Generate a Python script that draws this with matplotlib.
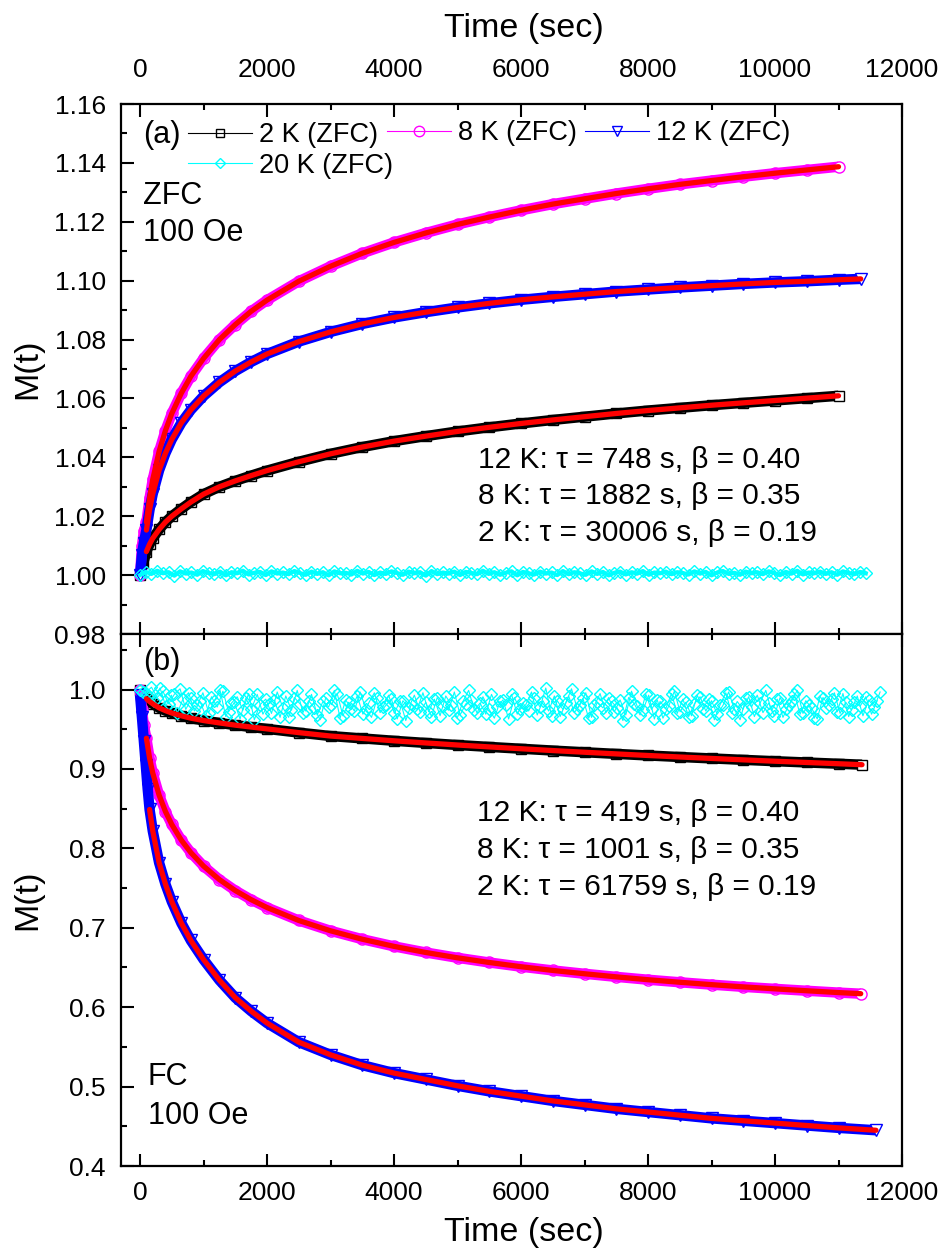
import matplotlib
matplotlib.use('Agg')
import matplotlib.pyplot as plt
from matplotlib.lines import Line2D
from matplotlib.ticker import MultipleLocator, FormatStrFormatter

plt.rcParams['font.family'] = ['Liberation Sans', 'DejaVu Sans']

# ---------------- data ----------------
fit_t = [100, 150, 200, 300, 400, 500, 650, 800, 1000, 1250, 1500, 1750, 2000, 2500, 3000,
         3500, 4000, 4500, 5000, 5500, 6000, 6500, 7000, 7500, 8000, 8500, 9000, 9500,
         10000, 10500, 11000]

# (a) ZFC fits
zfc_2k_fit_t = fit_t
zfc_2k_fit = [1.0080, 1.0105, 1.0125, 1.0155, 1.0180, 1.0200, 1.0225, 1.0248, 1.0275, 1.0300,
              1.0320, 1.0338, 1.0355, 1.0385, 1.0412, 1.0435, 1.0455, 1.0472, 1.0488, 1.0502,
              1.0515, 1.0527, 1.0538, 1.0549, 1.0559, 1.0568, 1.0577, 1.0585, 1.0593, 1.0601,
              1.0609]
zfc_8k_fit_t = fit_t
zfc_8k_fit = [1.0180, 1.0262, 1.0325, 1.0420, 1.0491, 1.0549, 1.0618, 1.0675, 1.0736, 1.0800,
              1.0851, 1.0896, 1.0934, 1.0998, 1.1049, 1.1093, 1.1130, 1.1162, 1.1191, 1.1216,
              1.1239, 1.1260, 1.1278, 1.1296, 1.1312, 1.1327, 1.1340, 1.1353, 1.1365, 1.1376,
              1.1387]
zfc_12k_fit_t = fit_t + [11350]
zfc_12k_fit = [1.0153, 1.0223, 1.0276, 1.0356, 1.0414, 1.0461, 1.0517, 1.0561, 1.0608, 1.0655,
               1.0693, 1.0724, 1.0751, 1.0793, 1.0826, 1.0853, 1.0875, 1.0893, 1.0909, 1.0923,
               1.0935, 1.0945, 1.0954, 1.0963, 1.0970, 1.0977, 1.0983, 1.0989, 1.0994, 1.0998,
               1.1003, 1.1006]

# (a) ZFC data: early points + points along the curve
zfc_2k_t = [0, 50] + zfc_2k_fit_t
zfc_2k_m = [1.000, 1.004] + zfc_2k_fit
zfc_8k_t = [0, 30, 60] + zfc_8k_fit_t
zfc_8k_m = [1.000, 1.010, 1.015] + zfc_8k_fit
zfc_12k_t = [0, 30, 60] + zfc_12k_fit_t
zfc_12k_m = [1.000, 1.007, 1.011] + zfc_12k_fit

# (b) FC fits
fc_2k_fit_t = fit_t + [11370]
fc_2k_fit = [0.9885, 0.9850, 0.9820, 0.9770, 0.9735, 0.9705, 0.9670, 0.9640, 0.9610, 0.9580,
             0.9552, 0.9528, 0.9505, 0.9458, 0.9415, 0.9385, 0.9355, 0.9328, 0.9302, 0.9278,
             0.9255, 0.9232, 0.9211, 0.9190, 0.9170, 0.9151, 0.9133, 0.9115, 0.9098, 0.9082,
             0.9066, 0.9054]
fc_8k_fit_t = fit_t + [11350]
fc_8k_fit = [0.9387, 0.9137, 0.8949, 0.8671, 0.8464, 0.8301, 0.8104, 0.7947, 0.7777, 0.7607,
             0.7469, 0.7354, 0.7255, 0.7092, 0.6962, 0.6856, 0.6766, 0.6689, 0.6622, 0.6563,
             0.6510, 0.6463, 0.6421, 0.6382, 0.6346, 0.6314, 0.6284, 0.6256, 0.6231, 0.6207,
             0.6184, 0.6170]
fc_12k_fit_t = fit_t[1:] + [11590]
fc_12k_fit = [0.849, 0.822, 0.782, 0.755, 0.733, 0.706, 0.684, 0.660, 0.634, 0.612, 0.595,
              0.580, 0.556, 0.540, 0.527, 0.517, 0.509, 0.501, 0.494, 0.488, 0.482, 0.477,
              0.472, 0.468, 0.464, 0.460, 0.457, 0.454, 0.451, 0.448, 0.445]

fc_2k_t = [0, 50] + fc_2k_fit_t
fc_2k_m = [1.000, 0.993] + fc_2k_fit
fc_8k_t = [0, 30, 60] + fc_8k_fit_t
fc_8k_m = [1.000, 0.975, 0.955] + fc_8k_fit
fc_12k_t = [0, 30, 60, 90, 120] + fc_12k_fit_t
fc_12k_m = [0.993, 0.965, 0.935, 0.905, 0.875] + fc_12k_fit

# 20 K data (noisy, flat)
t_20k = [0, 90, 180, 270, 360, 450, 540, 630, 720, 810,
         900, 990, 1080, 1170, 1260, 1350, 1440, 1530, 1620, 1710,
         1800, 1890, 1980, 2070, 2160, 2250, 2340, 2430, 2520, 2610,
         2700, 2790, 2880, 2970, 3060, 3150, 3240, 3330, 3420, 3510,
         3600, 3690, 3780, 3870, 3960, 4050, 4140, 4230, 4320, 4410,
         4500, 4590, 4680, 4770, 4860, 4950, 5040, 5130, 5220, 5310,
         5400, 5490, 5580, 5670, 5760, 5850, 5940, 6030, 6120, 6210,
         6300, 6390, 6480, 6570, 6660, 6750, 6840, 6930, 7020, 7110,
         7200, 7290, 7380, 7470, 7560, 7650, 7740, 7830, 7920, 8010,
         8100, 8190, 8280, 8370, 8460, 8550, 8640, 8730, 8820, 8910,
         9000, 9090, 9180, 9270, 9360, 9450, 9540, 9630, 9720, 9810,
         9900, 9990, 10080, 10170, 10260, 10350, 10440, 10530, 10620, 10710,
         10800, 10890, 10980, 11070, 11160, 11250, 11340, 11430, 11520, 11610]
t_20k_b = [45, 135, 225, 315, 405, 495, 585, 675, 765, 855,
           945, 1035, 1125, 1215, 1305, 1395, 1485, 1575, 1665, 1755,
           1845, 1935, 2025, 2115, 2205, 2295, 2385, 2475, 2565, 2655,
           2745, 2835, 2925, 3015, 3105, 3195, 3285, 3375, 3465, 3555,
           3645, 3735, 3825, 3915, 4005, 4095, 4185, 4275, 4365, 4455,
           4545, 4635, 4725, 4815, 4905, 4995, 5085, 5175, 5265, 5355,
           5445, 5535, 5625, 5715, 5805, 5895, 5985, 6075, 6165, 6255,
           6345, 6435, 6525, 6615, 6705, 6795, 6885, 6975, 7065, 7155,
           7245, 7335, 7425, 7515, 7605, 7695, 7785, 7875, 7965, 8055,
           8145, 8235, 8325, 8415, 8505, 8595, 8685, 8775, 8865, 8955,
           9045, 9135, 9225, 9315, 9405, 9495, 9585, 9675, 9765, 9855,
           9945, 10035, 10125, 10215, 10305, 10395, 10485, 10575, 10665, 10755,
           10845, 10935, 11025, 11115, 11205, 11295, 11385, 11475, 11565, 11655]
zfc_20k_m = [1.0000, 1.0011, 1.0004, 1.0015, 1.0006, 1.0010, 0.9998, 1.0013, 1.0005, 1.0009,
             1.0001, 1.0014, 1.0007, 1.0003, 1.0012, 0.9999, 1.0010, 1.0006, 1.0015, 1.0002,
             1.0008, 1.0011, 1.0000, 1.0013, 1.0005, 1.0009, 1.0003, 1.0014, 1.0007, 1.0001,
             1.0012, 1.0004, 1.0010, 0.9999, 1.0013, 1.0006, 1.0008, 1.0002, 1.0015, 1.0005,
             1.0011, 1.0000, 1.0009, 1.0004, 1.0013, 1.0007, 1.0001, 1.0012, 1.0006, 1.0010,
             0.9998, 1.0014, 1.0003, 1.0009, 1.0005, 1.0012, 1.0000, 1.0011, 1.0007, 1.0003,
             1.0015, 1.0004, 1.0010, 1.0001, 1.0008, 1.0013, 0.9999, 1.0011, 1.0006, 1.0002,
             1.0012, 1.0005, 1.0009, 1.0000, 1.0014, 1.0003, 1.0010, 1.0006, 1.0001, 1.0013,
             1.0004, 1.0011, 0.9999, 1.0008, 1.0012, 1.0002, 1.0010, 1.0005, 1.0014, 1.0001,
             1.0009, 1.0006, 1.0012, 1.0003, 1.0010, 1.0007, 1.0002, 1.0013, 1.0005, 1.0011,
             0.9999, 1.0009, 1.0014, 1.0004, 1.0008, 1.0001, 1.0012, 1.0006, 1.0010, 1.0003,
             1.0013, 1.0007, 1.0000, 1.0011, 1.0005, 1.0015, 1.0002, 1.0009, 1.0006, 1.0012,
             1.0004, 1.0010, 1.0001, 1.0013, 1.0007, 1.0003, 1.0011, 1.0006]
fc_20k_m = [1.000, 0.996, 1.003, 0.990, 0.998, 0.982, 0.994, 1.001, 0.975, 0.989,
            0.980, 0.996, 0.971, 0.986, 0.999, 0.966, 0.983, 0.991, 0.974, 0.995,
            0.962, 0.981, 0.988, 0.970, 0.997, 0.977, 0.965, 0.990, 0.982, 0.973,
            0.994, 0.968, 0.985, 0.978, 0.999, 0.964, 0.987, 0.975, 0.992, 0.969,
            0.983, 0.996, 0.971, 0.980, 0.988, 0.963, 0.986, 0.977, 0.993, 0.972,
            0.984, 0.966, 0.990, 0.979, 0.974, 0.997, 0.968, 0.982, 0.987, 0.970,
            0.991, 0.976, 0.964, 0.985, 0.980, 0.994, 0.969, 0.983, 0.973, 0.989,
            0.978, 1.002, 0.967, 0.986, 0.975, 0.992, 0.971, 0.981, 0.996, 0.965,
            0.984, 0.977, 0.990, 0.972, 0.987, 0.968, 0.998, 0.979, 0.974, 0.993,
            0.963, 0.985, 0.976, 0.995, 0.970, 0.988, 0.966, 0.982, 0.991, 0.973,
            0.986, 0.969, 0.980, 0.997, 0.975, 0.962, 0.989, 0.978, 0.993, 0.971,
            0.983, 0.967, 0.990, 0.976, 0.985, 0.999, 0.970, 0.981, 0.964, 0.992,
            0.977, 0.988, 0.972, 0.995, 0.966, 0.984, 0.979, 0.991, 0.969, 0.986]
fc_20k_m_b = [0.997, 0.992, 0.985, 1.002, 0.979, 0.993, 0.970, 0.988, 0.996, 0.973,
              0.985, 0.967, 0.991, 0.978, 0.998, 0.972, 0.984, 0.963, 0.989, 0.976,
              0.994, 0.969, 0.982, 0.987, 0.965, 0.992, 0.974, 0.999, 0.971, 0.986,
              0.977, 0.962, 0.990, 0.981, 0.995, 0.967, 0.984, 0.973, 0.997, 0.976,
              0.965, 0.989, 0.978, 0.993, 0.970, 0.986, 0.961, 0.982, 0.975, 0.996,
              0.972, 0.988, 0.967, 0.992, 0.980, 0.964, 0.985, 0.999, 0.974, 0.983,
              0.969, 0.994, 0.978, 0.987, 0.963, 0.990, 0.975, 0.981, 0.997, 0.968,
              0.986, 0.973, 0.992, 0.966, 0.983, 1.001, 0.976, 0.989, 0.964, 0.980,
              0.995, 0.971, 0.985, 0.977, 0.961, 0.990, 0.982, 0.968, 0.994, 0.975,
              0.987, 0.964, 0.979, 0.998, 0.972, 0.984, 0.967, 0.993, 0.976, 0.988,
              0.962, 0.981, 0.996, 0.970, 0.985, 0.975, 0.991, 0.966, 0.983, 0.999,
              0.973, 0.988, 0.965, 0.980, 0.994, 0.969, 0.986, 0.977, 0.963, 0.990,
              0.981, 0.996, 0.970, 0.984, 0.974, 0.992, 0.967, 0.987, 0.978, 0.997]

legend_labels = ['2 K (ZFC)', '8 K (ZFC)', '12 K (ZFC)', '20 K (ZFC)']
zfc_notes = ['12 K: \u03c4 = 748 s, \u03b2 = 0.40', '8 K: \u03c4 = 1882 s, \u03b2 = 0.35',
             '2 K: \u03c4 = 30006 s, \u03b2 = 0.19']
fc_notes = ['12 K: \u03c4 = 419 s, \u03b2 = 0.40', '8 K: \u03c4 = 1001 s, \u03b2 = 0.35',
            '2 K: \u03c4 = 61759 s, \u03b2 = 0.19']

# ---------------- figure ----------------
W, H = 944, 1256
fig = plt.figure(figsize=(W / 100, H / 100), dpi=100)


def fx(x):
    return x / W


def fy(y):
    return 1 - y / H


AX_L, AX_R, AX_T, AX_M, AX_B = 121, 902, 104, 634, 1166
ax1 = fig.add_axes([fx(AX_L), fy(AX_M), (AX_R - AX_L) / W, (AX_M - AX_T) / H])
ax2 = fig.add_axes([fx(AX_L), fy(AX_B), (AX_R - AX_L) / W, (AX_B - AX_M) / H])

BLACK, MAG, BLUE, CYAN, RED = '#000000', '#FF00FF', '#0000FF', '#00FFFF', '#FF0000'


def band(ax, t, m, color, marker, ms):
    ax.plot(t, m, color=color, lw=7.5, solid_capstyle='butt', solid_joinstyle='round',
            zorder=2)
    ax.plot(t[:-1], m[:-1], ls='none', marker=marker, ms=ms, mfc='none', mec=color,
            mew=1.0, zorder=2)
    ax.plot(t[-1:], m[-1:], ls='none', marker=marker, ms=ms, mfc='white', mec=color,
            mew=1.0, zorder=2.5)


def noisy(ax, t, m, color, lw, ms):
    ax.plot(t, m, color=color, lw=lw, marker='D', ms=ms, mfc='none', mec=color,
            mew=1.0, zorder=2.2)


def fit(ax, t, m):
    ax.plot(t, m, color=RED, lw=3.8, solid_capstyle='round', zorder=3)


# panel (a)
band(ax1, zfc_2k_t, zfc_2k_m, BLACK, 's', 7.5)
band(ax1, zfc_8k_t, zfc_8k_m, MAG, 'o', 8)
band(ax1, zfc_12k_t, zfc_12k_m, BLUE, 'v', 8)
noisy(ax1, t_20k[:len(zfc_20k_m)], zfc_20k_m, CYAN, 3.0, 6.5)
fit(ax1, zfc_2k_fit_t, zfc_2k_fit)
fit(ax1, zfc_8k_fit_t, zfc_8k_fit)
fit(ax1, zfc_12k_fit_t, zfc_12k_fit)

# panel (b)
band(ax2, fc_2k_t, fc_2k_m, BLACK, 's', 7.5)
band(ax2, fc_8k_t, fc_8k_m, MAG, 'o', 8)
band(ax2, fc_12k_t, fc_12k_m, BLUE, 'v', 8)
noisy(ax2, t_20k[:len(fc_20k_m)], fc_20k_m, CYAN, 0.8, 6.5)
noisy(ax2, t_20k_b[:len(fc_20k_m_b)], fc_20k_m_b, CYAN, 0.8, 6.5)
fit(ax2, fc_2k_fit_t, fc_2k_fit)
fit(ax2, fc_8k_fit_t, fc_8k_fit)
fit(ax2, fc_12k_fit_t, fc_12k_fit)

# axes styling
for ax in (ax1, ax2):
    ax.set_xlim(-300, 12000)
    ax.xaxis.set_major_locator(MultipleLocator(2000))
    ax.xaxis.set_minor_locator(MultipleLocator(1000))
    ax.tick_params(which='both', direction='in', top=True, bottom=True, left=True,
                   right=False, width=1.5, labelsize=19)
    ax.tick_params(which='major', length=9)
    ax.tick_params(which='minor', length=4.5)
    ax.tick_params(axis='y', pad=11)
    for s in ax.spines.values():
        s.set_linewidth(1.6)

ax1.set_ylim(0.98, 1.16)
ax1.yaxis.set_major_locator(MultipleLocator(0.02))
ax1.yaxis.set_minor_locator(MultipleLocator(0.01))
ax1.yaxis.set_major_formatter(FormatStrFormatter('%.2f'))
ax1.tick_params(axis='x', labeltop=True, labelbottom=False, pad=16)

ax2.set_ylim(0.4, 1.07)
ax2.yaxis.set_major_locator(MultipleLocator(0.1))
ax2.yaxis.set_minor_locator(MultipleLocator(0.05))
ax2.yaxis.set_major_formatter(FormatStrFormatter('%.1f'))
ax2.tick_params(axis='x', labelbottom=True, labeltop=False, pad=11)

# axis labels
ax1.set_xlabel('Time (sec)', fontsize=24.5)
ax1.xaxis.set_label_position('top')
ax1.xaxis.set_label_coords(0.516, 1 + (AX_T - 28) / (AX_M - AX_T))
ax1.xaxis.label.set_va('center')
ax2.set_xlabel('Time (sec)', fontsize=24.5)
ax2.xaxis.set_label_coords(0.516, -(1233 - AX_B) / (AX_B - AX_M))
ax2.xaxis.label.set_va('center')
for ax in (ax1, ax2):
    ax.set_ylabel('M(t)', fontsize=24.5)
    ax.yaxis.set_label_coords((28 - AX_L) / (AX_R - AX_L), 0.5)
    ax.yaxis.label.set_va('center')

# legend (Origin style, three groups)
h2 = Line2D([], [], color=BLACK, lw=0.8, marker='s', ms=6, mfc='none', mec=BLACK)
h8 = Line2D([], [], color=MAG, lw=0.8, marker='o', ms=7.5, mfc='none', mec=MAG)
h12 = Line2D([], [], color=BLUE, lw=0.8, marker='v', ms=7.5, mfc='none', mec=BLUE)
h20 = Line2D([], [], color=CYAN, lw=0.8, marker='D', ms=5.5, mfc='none', mec=CYAN)
LEG_FS = 19.5
common = dict(bbox_transform=fig.transFigure, frameon=False, fontsize=LEG_FS,
              handlelength=64 / 27.1, handletextpad=0.26, borderpad=0, borderaxespad=0,
              labelspacing=0.18, loc='center left')
fig.legend([h2, h20], [legend_labels[0], legend_labels[3]],
           bbox_to_anchor=(fx(188), fy(150.5)), **common)
fig.legend([h8], [legend_labels[1]], bbox_to_anchor=(fx(387), fy(133)), **common)
fig.legend([h12], [legend_labels[2]], bbox_to_anchor=(fx(585), fy(133)), **common)

# panel texts
TFS = 22
fig.text(fx(143), fy(135), '(a)', fontsize=TFS, va='center', ha='left')
fig.text(fx(143), fy(196), 'ZFC', fontsize=TFS, va='center', ha='left')
fig.text(fx(143), fy(233), '100 Oe', fontsize=TFS, va='center', ha='left')
fig.text(fx(143), fy(662), '(b)', fontsize=TFS, va='center', ha='left')
fig.text(fx(148), fy(1077), 'FC', fontsize=TFS, va='center', ha='left')
fig.text(fx(148), fy(1116), '100 Oe', fontsize=TFS, va='center', ha='left')

NFS = 21.5
for i, s in enumerate(zfc_notes):
    fig.text(fx(478), fy(460 + 36.5 * i), s, fontsize=NFS, va='center', ha='left')
for i, s in enumerate(fc_notes):
    fig.text(fx(477), fy(813 + 37 * i), s, fontsize=NFS, va='center', ha='left')

fig.savefig('out.png', dpi=100)
